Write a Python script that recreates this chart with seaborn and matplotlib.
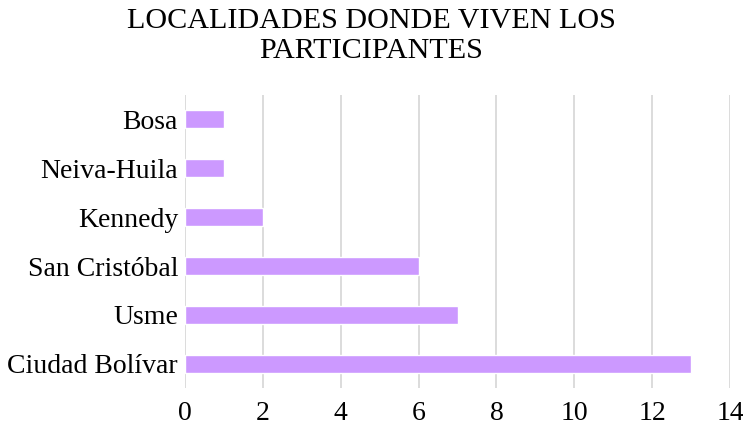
import matplotlib
matplotlib.use("Agg")
import matplotlib.pyplot as plt
import seaborn as sns
import pandas as pd

categories = ["Bosa", "Neiva-Huila", "Kennedy", "San Cristóbal", "Usme", "Ciudad Bolívar"]
values = [1, 1, 2, 6, 7, 13]
xticks = [0, 2, 4, 6, 8, 10, 12, 14]

sns.set_theme(style="white")
plt.rcParams['font.family'] = ['Liberation Serif', 'DejaVu Serif']

df = pd.DataFrame({"Localidad": categories, "Participantes": values})

fig = plt.figure(figsize=(7.43, 4.34), dpi=100)
ax = fig.add_axes([0.249, 0.105, 0.7335, 0.677])
sns.barplot(data=df, y="Localidad", x="Participantes", order=categories,
            color="#CC99FF", saturation=1, width=0.37, ax=ax)
ax.set_xlim(0, 14)
ax.set_xticks(xticks)
ax.set_xticklabels([str(t) for t in xticks])
ax.set_xlabel("")
ax.set_ylabel("")
ax.grid(axis="x", color="#D9D9D9", linewidth=1.3)
ax.set_axisbelow(True)
for s in ax.spines.values():
    s.set_visible(False)
ax.tick_params(axis="both", length=0, labelsize=20, colors="#000000")
ax.tick_params(axis="x", pad=9)
ax.tick_params(axis="y", pad=5)
fig.suptitle("LOCALIDADES DONDE VIVEN LOS\nPARTICIPANTES", fontsize=21.7,
             y=0.982, va="top", linespacing=1.22, color="#000000")
fig.savefig("out.png", dpi=100)
